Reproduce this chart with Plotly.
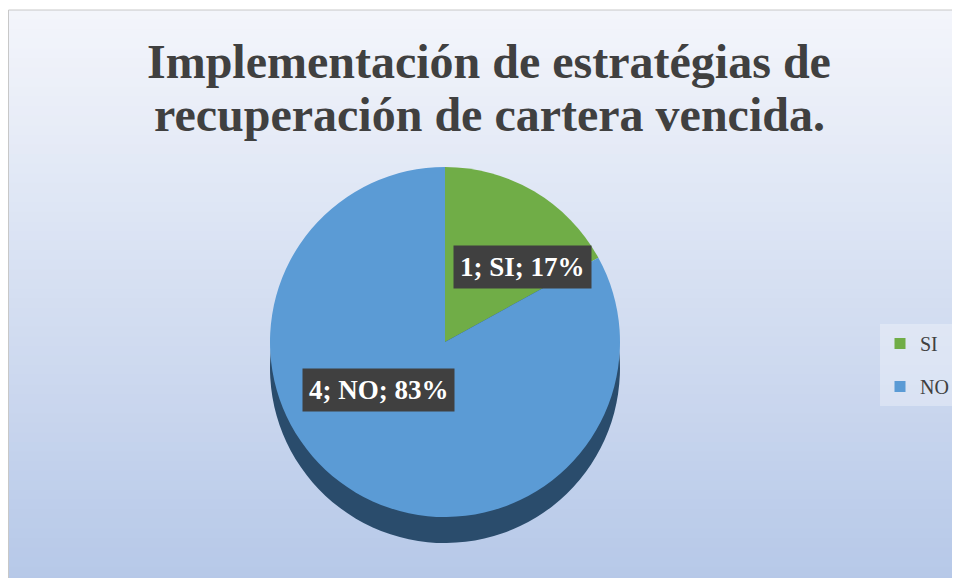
import plotly.graph_objects as go

# data
categories = ["SI", "NO"]
counts = [1, 4]
percentages = [17, 83]
title_lines = ["Implementación de estratégias de", "recuperación de cartera vencida."]

colors = ["#70ad47", "#5b9bd5"]
side_colors = ["#2a4c6c", "#2a4c6c"]

W, H = 960, 578

fig = go.Figure()

# darker copy a bit lower, gives the 3D rim of the pie
fig.add_trace(go.Pie(
    labels=categories, values=percentages, sort=False, direction="clockwise",
    marker=dict(colors=side_colors, line=dict(width=0)),
    textinfo="none", hoverinfo="skip", showlegend=False,
    domain=dict(x=[262 / W, 612 / W], y=[43 / H, 393 / H]),
))

fig.add_trace(go.Pie(
    labels=categories, values=percentages, sort=False, direction="clockwise",
    marker=dict(colors=colors, line=dict(width=0)),
    textinfo="none", showlegend=False,
    domain=dict(x=[262 / W, 612 / W], y=[69 / H, 419 / H]),
))

# legend entries (separate groups so the gap between them can be set)
for cat, col in zip(categories, colors):
    fig.add_trace(go.Scatter(
        x=[None], y=[None], mode="markers", name=cat, legendgroup=cat,
        marker=dict(symbol="square", size=11, color=col),
    ))

# vertical gradient background built from thin stripes
top = (243, 245, 251)
bottom = (182, 200, 232)
n = 60
y_top = 1 - 2 / H
shapes = []
for i in range(n):
    t = i / (n - 1)
    c = tuple(round(top[k] + (bottom[k] - top[k]) * t) for k in range(3))
    y1 = y_top - i * y_top / n
    y0 = y1 - y_top / n - 0.002
    shapes.append(dict(type="rect", xref="paper", yref="paper",
                       x0=0, x1=1, y0=max(y0, 0), y1=y1,
                       fillcolor="rgb(%d,%d,%d)" % c, line=dict(width=0), layer="below"))
shapes.append(dict(type="rect", xref="paper", yref="paper",
                   x0=0.5 / W, x1=1.01, y0=-0.01, y1=y_top,
                   line=dict(color="#c8c8c8", width=1), layer="below"))

annotations = []

# title, two lines with tight spacing
for line, ty in zip(title_lines, [54, 106]):
    annotations.append(dict(
        text=line, x=481 / W, y=1 - ty / H, xref="paper", yref="paper",
        xanchor="center", yanchor="middle", showarrow=False,
        font=dict(family="Liberation Serif", size=48, color="#404040", weight="bold"),
    ))

# data labels
label_pos = [(514, 259), (370, 404)]
for cat, cnt, pct, (ax, ay) in zip(categories, counts, percentages, label_pos):
    annotations.append(dict(
        text=f"{cnt}; {cat}; {pct}%", x=ax / W, y=1 - ay / H, xref="paper", yref="paper",
        showarrow=False, bgcolor="#404040", borderpad=6,
        font=dict(family="Liberation Serif", size=27, color="white", weight="bold"),
    ))

fig.update_layout(
    width=W, height=H,
    margin=dict(l=0, r=0, t=0, b=0),
    paper_bgcolor="white",
    plot_bgcolor="rgba(0,0,0,0)",
    xaxis=dict(visible=False),
    yaxis=dict(visible=False),
    shapes=shapes,
    annotations=annotations,
    legend=dict(
        x=872 / W, y=1 - 316 / H, xanchor="left", yanchor="top",
        bgcolor="rgba(255,255,255,0.3)", itemwidth=30, tracegroupgap=14,
        font=dict(family="Liberation Serif", size=20, color="#404040"),
    ),
)

fig.write_html("out.html")
